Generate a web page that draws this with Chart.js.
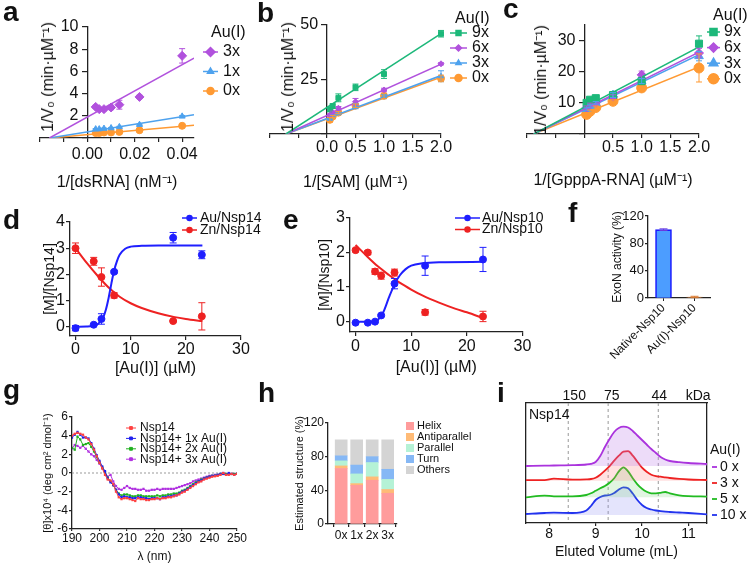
<!DOCTYPE html>
<html>
<head>
<meta charset="utf-8">
<script src="https://cdn.jsdelivr.net/npm/chart.js@4.4.1/dist/chart.umd.min.js"></script>
<style>
  body { margin: 0; background: #fff; }
  #fig { position: relative; width: 751px; height: 565px; overflow: hidden; font-family: 'Liberation Sans', Arial, Helvetica, sans-serif; color: #111; }
  #fig canvas { position: absolute; }
  .lt { position: absolute; font-weight: bold; font-size: 28px; line-height: 28px; }
  .yt { position: absolute; font-size: 16px; line-height: 18px; white-space: nowrap; transform: translate(-50%, -50%) rotate(-90deg); }
  .note { position: absolute; font-size: 14px; line-height: 16px; }
</style>
</head>
<body>
<div id="fig">
  <canvas id="pa" width="250" height="195" style="left:0;top:0"></canvas>
  <canvas id="pb" width="250" height="195" style="left:250px;top:0"></canvas>
  <canvas id="pc" width="251" height="195" style="left:500px;top:0"></canvas>
  <canvas id="pd" width="290" height="185" style="left:0;top:195px"></canvas>
  <canvas id="pe" width="260" height="185" style="left:290px;top:195px"></canvas>
  <canvas id="pf" width="191" height="185" style="left:560px;top:195px"></canvas>
  <canvas id="pg" width="250" height="180" style="left:0;top:385px"></canvas>
  <canvas id="ph" width="250" height="180" style="left:250px;top:385px"></canvas>
  <canvas id="pi" width="281" height="180" style="left:470px;top:385px"></canvas>

  <div class="lt" style="left:3px;top:-2px">a</div>
  <div class="lt" style="left:257px;top:-1px">b</div>
  <div class="lt" style="left:503px;top:-5px">c</div>
  <div class="lt" style="left:3px;top:206px">d</div>
  <div class="lt" style="left:283px;top:206px">e</div>
  <div class="lt" style="left:568px;top:199px">f</div>
  <div class="lt" style="left:3px;top:376px">g</div>
  <div class="lt" style="left:258px;top:379px">h</div>
  <div class="lt" style="left:497px;top:379px">i</div>

  <div class="yt" style="left:48px;top:77px">1/V₀ (min·µM⁻¹)</div>
  <div class="yt" style="left:288px;top:77px">1/V₀ (min·µM⁻¹)</div>
  <div class="yt" style="left:541px;top:80px">1/V₀ (min·µM⁻¹)</div>
  <div class="note" style="left:529px;top:406px">Nsp14</div>
</div>
<script>
// ---- a: dsRNA kinetics
var dsRnaInv = [0.0035, 0.005, 0.007, 0.01, 0.0135, 0.022, 0.04];
var a3x = [2.8, 2.6, 2.6, 2.75, 3.0, 3.7, 7.4];
var a3xErr = [0.15, 0.1, 0.15, 0.2, 0.4, 0.15, 0.65];
var a1x = [0.8, 0.8, 0.85, 0.9, 1.0, 1.2, 1.95];
var a1xErr = [0.05, 0.05, 0.05, 0.05, 0.05, 0.05, 0.08];
var a0x = [0.45, 0.45, 0.5, 0.5, 0.55, 0.7, 1.1];
var a0xErr = [0.04, 0.04, 0.04, 0.04, 0.04, 0.04, 0.05];
var aFitX = [-0.016, 0.045];
var aFit3x = [0, 7.2];
var aFit1x = [0, 2.1];
var aFit0x = [0, 1.15];
var aYTicks = [0, 2, 4, 6, 8, 10];

// ---- b: SAM kinetics
var samInv = [0.05, 0.1, 0.2, 0.5, 1.0, 2.0];
var b9x = [11.3, 12.8, 16.6, 21.4, 27.5, 46.0];
var b9xErr = [1, 1, 1.8, 1.5, 2, 1.5];
var b6x = [8.7, 10, 11.8, 14.8, 20.2, 32.2];
var b6xErr = [0.5, 0.5, 0.8, 1.5, 0.8, 0.5];
var b3x = [7.0, 8.2, 9.5, 12.8, 17.2, 26.5];
var b3xErr = [0.5, 0.5, 0.5, 1.2, 1, 2.5];
var b0x = [6.5, 8.0, 9.8, 13.0, 17.5, 25.5];
var b0xErr = [1, 0.5, 0.5, 0.8, 1.2, 1.5];
var bFitX = [-0.72, 2.0];
var bFit9x = [0, 46];
var bFit6x = [0, 32];
var bFit3x = [0, 26.8];
var bFit0x = [0, 26];
var bYTicks = [0, 25, 50];

// ---- c: GpppA-RNA kinetics
var gpppaInv = [0.04, 0.1, 0.2, 0.5, 1.0, 2.0];
var c9x = [10, 11, 11.5, 12.5, 17, 29];
var c9xErr = [0.5, 0.5, 0.8, 0.8, 1.2, 2.5];
var c6x = [8.5, 9.5, 10, 12, 19, 26];
var c6xErr = [0.5, 0.4, 0.4, 0.6, 1.2, 1.5];
var c3x = [8, 9, 10, 12.5, 17, 25];
var c3xErr = [0.4, 0.4, 0.4, 0.8, 0.8, 1.5];
var c0x = [6.3, 7.3, 8.5, 10.5, 14.8, 21.2];
var c0xErr = [0.6, 0.4, 0.5, 0.5, 0.6, 4.5];
var cFitX = [-0.88, 2.0];
var cFit9x = [0, 28];
var cFit6x = [0, 26.3];
var cFit3x = [0, 25.5];
var cFit0x = [0, 21.5];
var cYTicks = [0, 10, 20, 30];

// ---- d: metal ratio, Nsp14
var auD = [0, 3.3, 4.7, 7.0, 17.7, 22.9];
var dAu = [-0.05, 0.08, 0.3, 2.1, 3.4, 2.75];
var dAuErr = [0.1, 0.03, 0.2, 0.05, 0.2, 0.15];
var dZn = [3.0, 2.5, 1.9, 1.2, 0.22, 0.4];
var dZnErr = [0.2, 0.15, 0.35, 0.1, 0.03, 0.52];
var dAuFitX = [0, 2, 3, 4, 5, 5.5, 6, 6.5, 7, 7.5, 8, 9, 10, 12, 15, 23];
var dAuFit = [0, 0.01, 0.03, 0.1, 0.35, 0.65, 1.1, 1.65, 2.15, 2.5, 2.75, 2.98, 3.06, 3.09, 3.1, 3.1];
var dZnFitX = [0, 2, 4, 6, 8, 10, 12, 15, 18, 20, 23];
var dZnFit = [3.0, 2.45, 1.95, 1.5, 1.15, 0.9, 0.72, 0.52, 0.37, 0.3, 0.22];

// ---- e: metal ratio, Nsp10
var auE = [0, 2.2, 3.5, 4.6, 7.0, 12.5, 22.9];
var eAu = [-0.03, -0.03, 0.0, 0.18, 1.1, 1.62, 1.8];
var eAuErr = [0.02, 0.02, 0.03, 0.03, 0.15, 0.28, 0.35];
var eZn = [2.07, 2.0, 1.45, 1.33, 1.42, 0.27, 0.15];
var eZnErr = [0.05, 0.06, 0.08, 0.1, 0.1, 0.08, 0.15];
var eAuFitX = [0, 3, 4, 5, 6, 7, 8, 9, 10, 12, 15, 23];
var eAuFit = [0, 0, 0.05, 0.28, 0.7, 1.08, 1.35, 1.52, 1.62, 1.69, 1.72, 1.73];
var eZnFitX = [0, 2, 4, 6, 8, 10, 12, 15, 18, 20, 23];
var eZnFit = [2.22, 1.9, 1.6, 1.35, 1.12, 0.93, 0.76, 0.55, 0.37, 0.27, 0.1];

// ---- f: ExoN activity
var exoCats = ['Native-Nsp10', 'Au(I)-Nsp10'];
var exoVals = [100, 1.5];
var exoErr = [1.2, 1.0];

// ---- g: CD spectra
var lambda = [190,191,192,193,194,195,196,197,198,199,200,201,202,203,204,205,206,207,208,209,210,
  211,212,213,214,215,216,217,218,219,220,221,222,223,224,225,226,227,228,229,230,
  231,232,233,234,235,236,237,238,239,240,241,242,243,244,245,246,247,248,249,250];
var cdNsp14 = [4.0,4.2,4.3,4.2,4.1,3.8,3.6,3.1,2.5,1.8,1.1,0.5,-0.2,-0.7,-0.8,-1.2,-2.0,-2.6,-2.8,-2.7,-2.7,
  -2.8,-2.9,-3.0,-2.7,-2.8,-2.8,-2.9,-2.9,-2.8,-2.8,-2.7,-2.8,-2.7,-2.7,-2.6,-2.6,-2.5,-2.4,-2.3,-2.1,
  -2.0,-1.8,-1.6,-1.4,-1.2,-1.0,-0.9,-0.7,-0.6,-0.5,-0.4,-0.35,-0.3,-0.2,0.0,-0.2,-0.2,-0.1,-0.2,-0.1];
var cd1x = [3.8,4.1,4.4,4.1,3.8,3.8,3.7,3.2,2.6,1.9,1.3,0.7,0.2,-0.6,-1.0,-1.3,-1.8,-2.3,-2.6,-2.5,-2.6,
  -2.6,-2.7,-2.7,-2.6,-2.6,-2.7,-2.7,-2.8,-2.7,-2.7,-2.7,-2.8,-2.6,-2.6,-2.5,-2.5,-2.4,-2.4,-2.2,-2.0,
  -1.9,-1.7,-1.5,-1.3,-1.1,-0.9,-0.8,-0.6,-0.5,-0.4,-0.3,-0.3,-0.2,-0.1,-0.1,-0.2,0.0,-0.1,-0.2,-0.1];
var cd2x = [2.7,2.5,3.9,3.6,3.0,3.1,3.2,2.8,2.3,1.7,1.1,0.6,0.1,-0.5,-0.9,-1.3,-1.8,-2.2,-2.4,-2.3,-2.3,
  -2.4,-2.5,-2.5,-2.4,-2.4,-2.5,-2.5,-2.5,-2.5,-2.5,-2.4,-2.5,-2.4,-2.4,-2.3,-2.3,-2.2,-2.2,-2.1,-1.9,
  -1.8,-1.6,-1.4,-1.2,-1.0,-0.9,-0.7,-0.6,-0.5,-0.4,-0.3,-0.3,-0.2,-0.1,-0.1,-0.1,-0.1,-0.1,-0.1,-0.1];
var cd3x = [2.6,3.0,2.9,2.7,2.9,2.6,2.3,2.0,1.8,1.4,1.0,0.5,0.0,-0.4,-0.2,-0.9,-1.4,-1.7,-1.8,-1.6,-1.4,
  -1.6,-1.7,-1.7,-1.8,-1.8,-1.7,-1.9,-1.9,-1.8,-1.8,-1.7,-1.8,-1.7,-1.7,-1.7,-1.7,-1.7,-1.6,-1.5,-1.4,
  -1.3,-1.2,-1.1,-0.9,-0.8,-0.7,-0.6,-0.5,-0.4,-0.3,-0.3,-0.2,-0.2,-0.1,0.0,-0.1,-0.1,-0.1,-0.1,-0.1];

// ---- h: secondary structure (%)
var hCats = ['0x', '1x', '2x', '3x'];
var helix = [66, 46, 52, 36.5];
var antiparallel = [3, 2, 4, 4.5];
var parallel = [6, 11.5, 17, 12];
var turn = [6, 10.5, 7, 12];
var others = [19, 30, 20, 35];

// ---- i: size exclusion traces
var elutedVol = [7.5, 7.9, 8.1, 8.5, 8.8, 8.9, 9.0, 9.1, 9.2, 9.3, 9.4, 9.5, 9.6, 9.7, 9.8, 9.9, 10.0, 10.1, 10.2, 10.3, 10.4, 10.5, 10.6, 10.8, 11.0, 11.4];
var sec0x = [0, 0.3, 0.5, 0.8, 1.5, 2.2, 4, 10, 19, 27, 34, 38, 39.3, 38.5, 35, 30.5, 26, 21.5, 17, 13, 9, 6.5, 5, 3.8, 3, 2];
var sec3x = [0.5, 0.5, 2, 1, 1.3, 1.7, 3, 6, 10, 14.5, 20, 25, 29, 29.5, 25, 19, 13, 9, 6, 4.5, 4, 3.3, 2.7, 1.8, 1.2, 0.7];
var sec5x = [0, 1.7, 1, 1, 2.3, 4, 6.5, 9, 11.3, 14.5, 19, 26, 30, 26, 19, 13, 8.5, 5.5, 4, 4, 4.5, 5.3, 4, 2, 1.2, 0.7];
var sec10x = [1, 2, 2.3, 2, 4.5, 9, 15, 18, 19.5, 20, 22, 25.5, 27.7, 26.7, 21.5, 15, 10, 7, 5.5, 4.5, 3.8, 3.3, 3, 2.5, 2, 0.7];
var secOffsets = [57, 42.3, 25.7, 8];
var mwMarks = [8.41, 9.27, 10.35];
var kdaAt = [8.54, 9.35, 10.37, 11.21];
var kdaLabels = ['150', '75', '44', 'kDa'];

var FONT = "'Liberation Sans', Arial, Helvetica, sans-serif";
var AX = '#222';
Chart.defaults.font.family = FONT;
Chart.defaults.color = '#111';
Chart.defaults.animation = false;
Chart.defaults.plugins.legend.display = false;
Chart.defaults.plugins.tooltip.enabled = false;

function xy(xs, ys) { return xs.map(function (x, i) { return {x: x, y: ys[i]}; }); }
function fixH(h) { return function (s) { s.height = h; s.paddingLeft = 0; s.paddingRight = 0; }; }
function fixW(w) { return function (s) { s.width = w; s.paddingTop = 0; s.paddingBottom = 0; }; }
function useTicks(list) { return function (s) { s.ticks = list.map(function (v) { return {value: v}; }); }; }

function drawPt(ctx, style, r, x, y) {
  if (Chart.helpers && Chart.helpers.drawPoint) {
    Chart.helpers.drawPoint(ctx, {pointStyle: style, radius: r, borderWidth: 1, rotation: 0}, x, y);
  } else {
    ctx.beginPath(); ctx.arc(x, y, r, 0, Math.PI * 2); ctx.fill();
  }
}

// error bars from dataset.errors, through the dataset's own y scale
var errorBars = {
  id: 'errorBars',
  afterDatasetsDraw: function (chart) {
    var ctx = chart.ctx;
    chart.data.datasets.forEach(function (ds, i) {
      if (!ds.errors) return;
      var meta = chart.getDatasetMeta(i);
      var ys = chart.scales[meta.yAxisID];
      ctx.save();
      ctx.lineWidth = ds.errorWidth || 1;
      meta.data.forEach(function (el, j) {
        var e = ds.errors[j];
        if (!e) return;
        var d = ds.data[j];
        var v = (typeof d === 'object') ? d.y : d;
        var c = ds.errorColor || ds.borderColor;
        ctx.strokeStyle = Array.isArray(c) ? c[j] : c;
        var y1 = ys.getPixelForValue(v - e), y2 = ys.getPixelForValue(v + e);
        var cw = ds.errorCap || 3;
        ctx.beginPath();
        ctx.moveTo(el.x, y1); ctx.lineTo(el.x, y2);
        ctx.moveTo(el.x - cw, y1); ctx.lineTo(el.x + cw, y1);
        ctx.moveTo(el.x - cw, y2); ctx.lineTo(el.x + cw, y2);
        ctx.stroke();
      });
      ctx.restore();
    });
  }
};

// dashed/dotted reference lines at given axis values
var refLines = {
  id: 'refLines',
  beforeDatasetsDraw: function (chart, args, o) {
    if (!o || !o.values) return;
    var s = chart.scales[o.axis], a = chart.chartArea, ctx = chart.ctx;
    ctx.save();
    ctx.strokeStyle = o.color; ctx.lineWidth = o.width || 1; ctx.setLineDash(o.dash || []);
    o.values.forEach(function (v) {
      var p = s.getPixelForValue(v);
      ctx.beginPath();
      if (o.axis === 'x') { ctx.moveTo(p, a.top); ctx.lineTo(p, a.bottom); }
      else { ctx.moveTo(a.left, p); ctx.lineTo(a.right, p); }
      ctx.stroke();
    });
    ctx.restore();
  }
};

// small fixed legend built from labelled datasets
var panelLegend = {
  id: 'panelLegend',
  afterDraw: function (chart, args, o) {
    if (!o || o.x === undefined) return;
    var ctx = chart.ctx;
    ctx.save();
    ctx.font = o.font;
    ctx.textBaseline = 'middle';
    ctx.textAlign = 'left';
    if (o.title) { ctx.fillStyle = '#111'; ctx.fillText(o.title, o.titleX, o.titleY); }
    var y = o.y;
    chart.data.datasets.forEach(function (ds) {
      if (!ds.label) return;
      var c = ds.borderColor;
      if (o.box) {
        ctx.fillStyle = ds.backgroundColor;
        ctx.fillRect(o.x, y - o.box / 2, o.box, o.box);
      } else {
        if (o.line) {
          ctx.strokeStyle = c; ctx.lineWidth = o.lineWidth || 1.5;
          ctx.beginPath(); ctx.moveTo(o.x, y); ctx.lineTo(o.x + o.markerW, y); ctx.stroke();
        }
        if (o.marker) {
          ctx.fillStyle = c; ctx.strokeStyle = c;
          drawPt(ctx, ds.pointStyle || 'circle', o.r || ds.pointRadius, o.x + o.markerW / 2, y);
        }
      }
      ctx.fillStyle = '#111';
      ctx.fillText(ds.label, o.x + (o.box || o.markerW) + o.gap, y);
      y += o.dy;
    });
    ctx.restore();
  }
};
Chart.register(errorBars, refLines, panelLegend);

function gridOpts(tl) { return {drawOnChartArea: false, drawTicks: true, tickLength: tl, color: AX, lineWidth: 1.2}; }
var borderOpts = {display: true, color: AX, width: 1.3};

function kineticChart(id, p) {
  var ds = [];
  p.series.forEach(function (s) {
    ds.push({label: s.label, data: xy(p.xs, s.y), errors: s.err, borderColor: s.color, backgroundColor: s.color,
      pointBackgroundColor: s.color, pointBorderColor: s.color, pointStyle: s.style, pointRadius: s.r,
      borderWidth: 1, clip: false, errorCap: 3});
    ds.push({type: 'line', data: xy(p.fitX, s.fit), borderColor: s.color, borderWidth: 1.5, pointRadius: 0, fill: false});
  });
  return new Chart(document.getElementById(id), {
    type: 'scatter',
    data: {datasets: ds},
    options: {
      responsive: false, devicePixelRatio: 1,
      layout: {padding: p.pad},
      scales: {
        x: {type: 'linear', position: 'bottom', min: p.xMin, max: p.xMax, afterFit: fixH(p.xH),
          grid: gridOpts(4), border: borderOpts,
          ticks: {stepSize: p.xStep, includeBounds: false, autoSkip: false, maxRotation: 0, font: {size: 16}, padding: p.xPad, callback: p.xLab},
          title: {display: true, text: p.xTitle, font: {size: 16}, padding: 0}},
        y: {type: 'linear', position: {x: 0}, min: 0, max: p.yMax, afterBuildTicks: useTicks(p.yTicks),
          grid: gridOpts(5), border: borderOpts,
          ticks: {autoSkip: false, font: {size: 16}, color: '#111',
            callback: function (v) { return v === 0 ? '' : v + '\u00a0\u00a0'; }}}
      },
      plugins: {panelLegend: p.legend}
    }
  });
}

var cGreen = '#1db87a', cPurple = '#b152dd', cBlue = '#4ea2ee', cOrange = '#ff9a33';

kineticChart('pa', {
  xs: dsRnaInv, fitX: aFitX, xMin: -0.02, xMax: 0.045, xStep: 0.01, yMax: 10, yTicks: aYTicks,
  pad: {left: 40, top: 27, right: 56, bottom: 3}, xH: 54, xPad: 3,
  xTitle: '1/[dsRNA] (nM⁻¹)',
  xLab: function (v) { var k = Math.round(v * 100); return (k >= 0 && k % 2 === 0) ? (k / 100).toFixed(2) : ''; },
  series: [
    {label: '3x', y: a3x, err: a3xErr, fit: aFit3x, color: cPurple, style: 'rectRot', r: 4.5},
    {label: '1x', y: a1x, err: a1xErr, fit: aFit1x, color: cBlue, style: 'triangle', r: 3.5},
    {label: '0x', y: a0x, err: a0xErr, fit: aFit0x, color: cOrange, style: 'circle', r: 3.5}
  ],
  legend: {x: 203, y: 52, dy: 19.5, font: '16px ' + FONT, markerW: 15, gap: 5, title: 'Au(I)', titleX: 211, titleY: 33, line: true, marker: true}
});

kineticChart('pb', {
  xs: samInv, fitX: bFitX, xMin: -1, xMax: 2, xStep: 0.5, yMax: 50, yTicks: bYTicks,
  pad: {left: 20, top: 25, right: 59, bottom: 3}, xH: 58, xPad: 0,
  xTitle: '1/[SAM] (µM⁻¹)',
  xLab: function (v) { return v >= -1e-9 ? v.toFixed(1) : ''; },
  series: [
    {label: '9x', y: b9x, err: b9xErr, fit: bFit9x, color: cGreen, style: 'rect', r: 3.5},
    {label: '6x', y: b6x, err: b6xErr, fit: bFit6x, color: cPurple, style: 'rectRot', r: 3},
    {label: '3x', y: b3x, err: b3xErr, fit: bFit3x, color: cBlue, style: 'triangle', r: 3},
    {label: '0x', y: b0x, err: b0xErr, fit: bFit0x, color: cOrange, style: 'circle', r: 3.5}
  ],
  legend: {x: 200, y: 33, dy: 15, font: '16px ' + FONT, markerW: 17, gap: 5, title: 'Au(I)', titleX: 205, titleY: 19, line: true, marker: true}
});

kineticChart('pc', {
  xs: gpppaInv, fitX: cFitX, xMin: -1, xMax: 2, xStep: 0.5, yMax: 35, yTicks: cYTicks,
  pad: {left: 27, top: 25, right: 52, bottom: 5}, xH: 56, xPad: 0,
  xTitle: '1/[GpppA-RNA] (µM⁻¹)',
  xLab: function (v) { return v > 1e-9 ? v.toFixed(1) : ''; },
  series: [
    {label: '9x', y: c9x, err: c9xErr, fit: cFit9x, color: cGreen, style: 'rect', r: 5},
    {label: '6x', y: c6x, err: c6xErr, fit: cFit6x, color: cPurple, style: 'rectRot', r: 4.5},
    {label: '3x', y: c3x, err: c3xErr, fit: cFit3x, color: cBlue, style: 'triangle', r: 5},
    {label: '0x', y: c0x, err: c0xErr, fit: cFit0x, color: cOrange, style: 'circle', r: 5}
  ],
  legend: {x: 207, y: 32, dy: 15.6, font: '16px ' + FONT, markerW: 13, gap: 4, title: 'Au(I)', titleX: 213, titleY: 16, line: true, marker: true}
});

var cAu = '#1f1fff', cZn = '#ee2222';
function bindingChart(id, p) {
  return new Chart(document.getElementById(id), {
    type: 'scatter',
    data: {datasets: [
      {label: p.auLabel, data: xy(p.xs, p.au), errors: p.auErr, borderColor: cAu, backgroundColor: cAu, pointRadius: 3.5, pointStyle: 'circle', clip: false, errorCap: 3.5},
      {label: p.znLabel, data: xy(p.xs, p.zn), errors: p.znErr, borderColor: cZn, backgroundColor: cZn, pointRadius: 3.5, pointStyle: 'circle', clip: false, errorCap: 3.5},
      {type: 'line', data: xy(p.auFitX, p.auFit), borderColor: cAu, borderWidth: 2, pointRadius: 0, cubicInterpolationMode: 'monotone'},
      {type: 'line', data: xy(p.znFitX, p.znFit), borderColor: cZn, borderWidth: 2, pointRadius: 0, cubicInterpolationMode: 'monotone'}
    ]},
    options: {
      responsive: false, devicePixelRatio: 1,
      layout: {padding: p.pad},
      scales: {
        x: {type: 'linear', min: -1, max: 30, afterFit: fixH(p.xH), grid: gridOpts(4), border: borderOpts,
          ticks: {stepSize: 10, includeBounds: false, autoSkip: false, font: {size: 16}, padding: p.xPad, maxRotation: 0},
          title: {display: true, text: '[Au(I)] (µM)', font: {size: 16}, padding: 0}},
        y: {type: 'linear', min: p.yMin, max: p.yMax, afterFit: fixW(p.yW), grid: gridOpts(4), border: borderOpts,
          ticks: {stepSize: 1, includeBounds: false, autoSkip: false, font: {size: 16}, padding: 1},
          title: {display: true, text: p.yTitle, font: {size: 14}, padding: p.yTitlePad}}
      },
      plugins: {panelLegend: p.legend}
    }
  });
}

bindingChart('pd', {
  xs: auD, au: dAu, auErr: dAuErr, zn: dZn, znErr: dZnErr,
  auFitX: dAuFitX, auFit: dAuFit, znFitX: dZnFitX, znFit: dZnFit,
  auLabel: 'Au/Nsp14', znLabel: 'Zn/Nsp14', yTitle: '[M]/[Nsp14]', yMin: -0.35, yMax: 4,
  pad: {left: 40, top: 27, right: 49, bottom: 2}, xH: 42, xPad: 0, yW: 30, yTitlePad: 2,
  legend: {x: 182, y: 23, dy: 12, font: '14px ' + FONT, markerW: 15, gap: 3, line: true, marker: true, r: 2.5}
});

bindingChart('pe', {
  xs: auE, au: eAu, auErr: eAuErr, zn: eZn, znErr: eZnErr,
  auFitX: eAuFitX, auFit: eAuFit, znFitX: eZnFitX, znFit: eZnFit,
  auLabel: 'Au/Nsp10', znLabel: 'Zn/Nsp10', yTitle: '[M]/[Nsp10]', yMin: -0.3, yMax: 3,
  pad: {left: 26, top: 23, right: 27.5, bottom: 3}, xH: 45, xPad: 1, yW: 34, yTitlePad: 1,
  legend: {x: 165, y: 23, dy: 11.5, font: '14px ' + FONT, markerW: 25, gap: 2, line: true, marker: true, r: 2.5}
});

// ---- f
new Chart(document.getElementById('pf'), {
  type: 'bar',
  data: {labels: exoCats, datasets: [{data: exoVals, errors: exoErr,
    backgroundColor: ['#4c9dff', '#f0a060'], borderColor: ['#1a1aff', '#d97a30'], borderWidth: 1.6,
    barThickness: 16, errorColor: ['#6a3adf', '#d97a30'], errorCap: 4}]},
  options: {
    responsive: false, devicePixelRatio: 1,
    layout: {padding: {left: 50, top: 21, right: 41, bottom: 0}},
    scales: {
      x: {afterFit: fixH(82), grid: {drawOnChartArea: false, tickLength: 3, offset: false, color: AX}, border: borderOpts,
        ticks: {minRotation: 45, maxRotation: 45, font: {size: 12}, padding: 0, color: '#111'}},
      y: {min: 0, max: 120, afterFit: fixW(38), grid: gridOpts(3), border: borderOpts,
        ticks: {stepSize: 40, font: {size: 13}, padding: 1},
        title: {display: true, text: 'ExoN activity (%)', font: {size: 12}, padding: 0}}
    }
  }
});

// ---- g
var cdColors = ['#ff4040', '#2020ee', '#20b020', '#b030e0'];
var cdLabels = ['Nsp14', 'Nsp14+ 1x Au(I)', 'Nsp14+ 2x Au(I)', 'Nsp14+ 3x Au(I)'];
var cdSeries = [cdNsp14, cd1x, cd2x, cd3x];
new Chart(document.getElementById('pg'), {
  type: 'line',
  data: {datasets: cdSeries.map(function (s, i) {
    return {label: cdLabels[i], data: xy(lambda, s), borderColor: cdColors[i], backgroundColor: cdColors[i],
      borderWidth: 1, pointStyle: 'rect', pointRadius: 1.6, pointBorderWidth: 0, tension: 0};
  })},
  options: {
    responsive: false, devicePixelRatio: 1,
    layout: {padding: {left: 41, top: 32, right: 13, bottom: 1}},
    scales: {
      x: {type: 'linear', min: 190, max: 250, afterFit: fixH(35), grid: gridOpts(2), border: borderOpts,
        ticks: {stepSize: 10, font: {size: 12}, padding: 0, maxRotation: 0},
        title: {display: true, text: 'λ (nm)', font: {size: 12}, padding: 0}},
      y: {min: -6, max: 6, afterFit: fixW(31), grid: gridOpts(3), border: borderOpts,
        ticks: {stepSize: 2, autoSkip: false, font: {size: 12}, padding: 1},
        title: {display: true, text: '[θ]x10⁴ (deg cm² dmol⁻¹)', font: {size: 11}, padding: 0}}
    },
    plugins: {
      refLines: {axis: 'y', values: [0], color: '#999', dash: [2, 2], width: 1},
      panelLegend: {x: 126, y: 43, dy: 10.4, font: '12px ' + FONT, markerW: 10, gap: 4, line: true, marker: true, r: 2, lineWidth: 1}
    }
  }
});

// ---- h
var hColors = ['#ff9c9c', '#ffbb77', '#b5f2d6', '#86b8f5', '#d4d4d4'];
var hLabels = ['Helix', 'Antiparallel', 'Parallel', 'Turn', 'Others'];
var hSeries = [helix, antiparallel, parallel, turn, others];
new Chart(document.getElementById('ph'), {
  type: 'bar',
  data: {datasets: hSeries.map(function (s, i) {
    return {label: hLabels[i], data: xy([0, 1, 2, 3], s), backgroundColor: hColors[i], borderColor: hColors[i], borderWidth: 0, barThickness: 12};
  })},
  options: {
    responsive: false, devicePixelRatio: 1,
    layout: {padding: {left: 43, top: 38, right: 103, bottom: 11}},
    scales: {
      x: {type: 'linear', min: -0.85, max: 3.6, offset: false, stacked: true, afterFit: fixH(30), grid: gridOpts(3), border: borderOpts,
        ticks: {stepSize: 1, includeBounds: false, font: {size: 12}, padding: 1, maxRotation: 0,
          callback: function (v) { return hCats[v] !== undefined ? hCats[v] : ''; }}},
      y: {min: 0, max: 120, stacked: true, afterFit: fixW(35), grid: gridOpts(3), border: borderOpts,
        ticks: {stepSize: 40, font: {size: 12}, padding: 1},
        title: {display: true, text: 'Estimated structure (%)', font: {size: 11}, padding: 0}}
    },
    plugins: {
      panelLegend: {x: 156, y: 41, dy: 11, font: '11px ' + FONT, box: 8, gap: 3}
    }
  }
});

// ---- i
var secColors = ['#aa33dd', '#ee2222', '#22bb22', '#2233ee'];
var secFills = ['rgba(190,130,235,0.28)', 'rgba(255,120,120,0.22)', 'rgba(120,210,120,0.22)', 'rgba(130,130,240,0.22)'];
var secLabels = ['0 x', '3 x', '5 x', '10 x'];
var secTraces = [sec0x, sec3x, sec5x, sec10x];
new Chart(document.getElementById('pi'), {
  type: 'line',
  data: {datasets: secTraces.map(function (h, i) {
    return {label: secLabels[i], data: elutedVol.map(function (v, j) { return {x: v, y: secOffsets[i] + h[j]}; }),
      borderColor: secColors[i], backgroundColor: secFills[i], fill: {value: secOffsets[i]},
      borderWidth: 1.8, pointRadius: 0, cubicInterpolationMode: 'monotone'};
  })},
  options: {
    responsive: false, devicePixelRatio: 1,
    layout: {padding: {left: 56, top: 0, right: 44, bottom: 4}},
    scales: {
      x: {type: 'linear', position: 'bottom', min: 7.5, max: 11.4, afterFit: fixH(38), grid: gridOpts(3), border: borderOpts,
        ticks: {stepSize: 1, includeBounds: false, font: {size: 14}, padding: 0, maxRotation: 0},
        title: {display: true, text: 'Eluted Volume (mL)', font: {size: 14}, padding: 0}},
      xTop: {type: 'linear', position: 'top', min: 7.5, max: 11.4, afterFit: fixH(18),
        afterBuildTicks: useTicks(kdaAt),
        grid: {drawOnChartArea: false, drawTicks: false}, border: borderOpts,
        ticks: {font: {size: 14}, padding: -2, autoSkip: false, maxRotation: 0,
          callback: function (v, i) { return kdaLabels[i]; }}},
      y: {min: 0, max: 120, afterFit: fixW(0), ticks: {display: false}, grid: {drawOnChartArea: false, drawTicks: false}, border: borderOpts},
      y2: {position: 'right', min: 0, max: 120, afterFit: fixW(0), ticks: {display: false}, grid: {drawOnChartArea: false, drawTicks: false}, border: borderOpts}
    },
    plugins: {
      refLines: {axis: 'x', values: mwMarks, color: '#999', dash: [3, 3], width: 1},
      panelLegend: {x: 242, y: 82, dy: 16, font: '14px ' + FONT, markerW: 5, gap: 3, line: true, marker: false, lineWidth: 1.8,
        title: 'Au(I)', titleX: 240, titleY: 65}
    }
  }
});
</script>
</body>
</html>
